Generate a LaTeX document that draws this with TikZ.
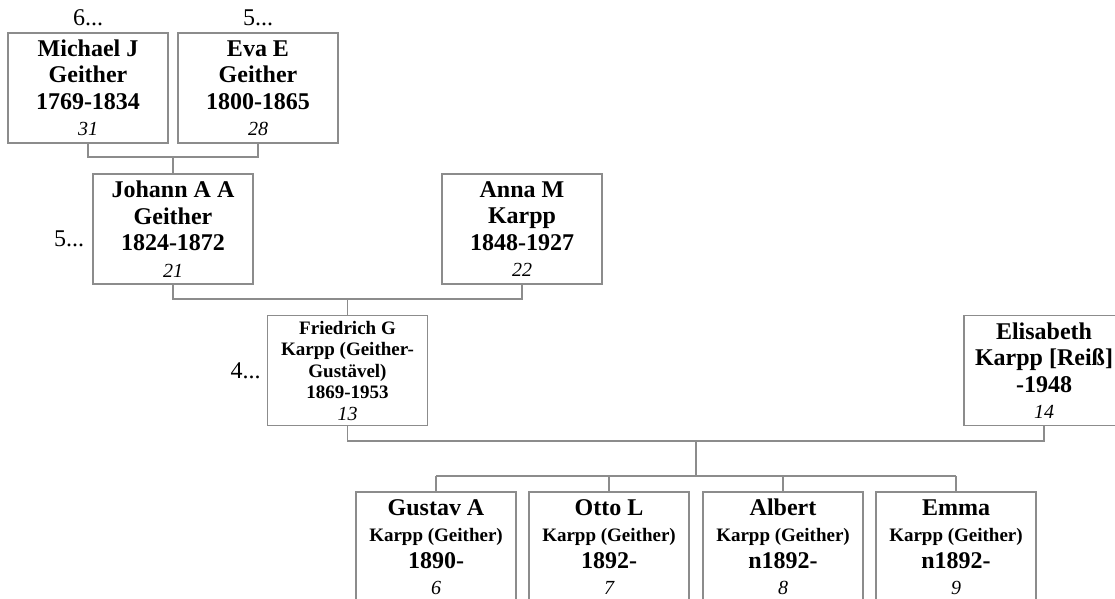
\documentclass[tikz,border=0pt]{standalone}
\usepackage{fontspec}
\setmainfont{Liberation Serif}
\usetikzlibrary{positioning}

\definecolor{boxgray}{HTML}{8C8C8C}

% small italic number and the smaller surname line
\newcommand{\refnum}[1]{{\fontsize{20}{20}\selectfont\mdseries\itshape #1}}
\newcommand{\famline}[1]{{\fontsize{19}{19}\selectfont #1}}

\tikzset{
    person/.style={draw=boxgray, line width=1.2pt, minimum width=160pt, minimum height=110pt,
        inner sep=0pt, align=center, font=\bfseries\fontsize{24}{26.5}\selectfont},
    smallperson/.style={person, font=\bfseries\fontsize{19}{21.5}\selectfont},
    link/.style={draw=boxgray, line width=1.2pt},
    more/.style={inner sep=0pt, font=\fontsize{24}{26}\selectfont}
}

\begin{document}
\begin{tikzpicture}[x=1pt, y=-1pt]
    \useasboundingbox (0,0) rectangle (1115,598);

    % grandparents
    \node[person] (michael) at (88,88) {Michael J\\Geither\\1769-1834\\\refnum{31}};
    \node[person] (eva) at (258,88) {Eva E\\Geither\\1800-1865\\\refnum{28}};
    \node[more, above=6pt of michael] {6...};
    \node[more, above=6pt of eva] {5...};

    % parents
    \node[person] (johann) at (173,229) {Johann A A\\Geither\\1824-1872\\\refnum{21}};
    \node[person] (anna) at (522,229) {Anna M\\Karpp\\1848-1927\\\refnum{22}};
    \node[more, left=8pt of johann, yshift=-10pt] {5...};

    % couple
    \node[smallperson] (friedrich) at (347.5,370.5) {Friedrich G\\Karpp (Geither-\\Gustävel)\\1869-1953\\\refnum{13}};
    \node[person] (elisabeth) at (1044,370.5) {Elisabeth\\Karpp [Reiß]\\-1948\\\refnum{14}};
    \node[more, left=6pt of friedrich] {4...};

    % children
    \node[person] (gustav) at (436,547) {Gustav A\\\famline{Karpp (Geither)}\\1890-\\\refnum{6}};
    \node[person] (otto) at (609,547) {Otto L\\\famline{Karpp (Geither)}\\1892-\\\refnum{7}};
    \node[person] (albert) at (783,547) {Albert\\\famline{Karpp (Geither)}\\n1892-\\\refnum{8}};
    \node[person] (emma) at (956,547) {Emma\\\famline{Karpp (Geither)}\\n1892-\\\refnum{9}};

    % family lines
    \coordinate (fam1) at (173,157);
    \draw[link] (michael.south) |- (fam1) -| (eva.south);
    \draw[link] (fam1) -- (johann.north);

    \coordinate (fam2) at (347.5,299);
    \draw[link] (johann.south) |- (fam2) -| (anna.south);
    \draw[link] (fam2) -- (friedrich.north);

    \coordinate (fam3) at (696,441);
    \coordinate (kids) at (696,476);
    \draw[link] (friedrich.south) |- (fam3) -| (elisabeth.south);
    \draw[link] (fam3) -- (kids);
    \draw[link] (gustav.north |- kids) -- (emma.north |- kids);
    \foreach \kid in {gustav,otto,albert,emma}
        \draw[link] (\kid.north) -- (\kid.north |- kids);
\end{tikzpicture}
\end{document}
